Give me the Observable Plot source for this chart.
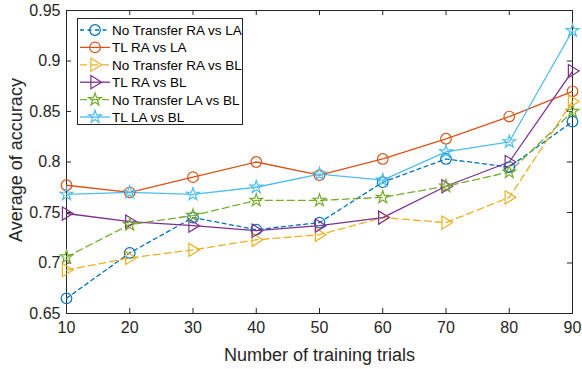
<!DOCTYPE html>
<html><head><meta charset="utf-8">
<script src="https://cdn.jsdelivr.net/npm/d3@7"></script>
<script src="https://cdn.jsdelivr.net/npm/@observablehq/plot@0.6"></script>
<style>
body{margin:0;background:#fff;font-family:"Liberation Sans",Arial,sans-serif;}
#wrap{position:relative;width:582px;height:369px;}
#legend{position:absolute;left:77px;top:18px;width:166px;height:107px;border:1px solid #262626;background:#fff;box-sizing:border-box;}
</style></head>
<body><div id="wrap"></div>
<script>
const trials = [10,20,30,40,50,60,70,80,90];
const seriesNames = ["No Transfer RA vs LA","TL RA vs LA","No Transfer RA vs BL","TL RA vs BL","No Transfer LA vs BL","TL LA vs BL"];
const ntRaLa = [0.665,0.710,0.745,0.733,0.740,0.780,0.803,0.795,0.840];
const tlRaLa = [0.777,0.770,0.785,0.800,0.787,0.803,0.823,0.845,0.870];
const ntRaBl = [0.693,0.705,0.713,0.723,0.728,0.745,0.740,0.765,0.860];
const tlRaBl = [0.749,0.741,0.737,0.732,0.737,0.745,0.776,0.800,0.890];
const ntLaBl = [0.706,0.738,0.747,0.762,0.762,0.765,0.776,0.790,0.850];
const tlLaBl = [0.768,0.770,0.768,0.775,0.788,0.782,0.810,0.820,0.930];
const xTicks = [10,20,30,40,50,60,70,80,90];
const yTicks = [0.65,0.7,0.75,0.8,0.85,0.9,0.95];

const colors = ["#0072BD","#D95319","#EDB120","#7E2F8E","#77AC30","#4DBEEE"];
const dashes = ["4,3.5",null,"7,4",null,"7,4",null];
const triRight = {draw(ctx, size){const r=Math.sqrt(size/Math.PI);ctx.moveTo(-r*0.75,-r*1.2);ctx.lineTo(r*1.2,0);ctx.lineTo(-r*0.75,r*1.2);ctx.closePath();}};
const symbols = [d3.symbolCircle,d3.symbolCircle,triRight,triRight,d3.symbolStar,d3.symbolStar];
const radii = [5.3,5.3,5.5,5.5,4,4];
const allVals = [ntRaLa,tlRaLa,ntRaBl,tlRaBl,ntLaBl,tlLaBl];

const data = seriesNames.map((name,i)=>trials.map((t,j)=>({series:name, x:t, y:allVals[i][j]})));

const lineMarks = data.map((d,i)=>Plot.line(d,{x:"x",y:"y",stroke:colors[i],strokeWidth:1.3,strokeDasharray:dashes[i]}));
const dotMarks = data.map((d,i)=>Plot.dot(d,{x:"x",y:"y",stroke:colors[i],fill:"none",strokeWidth:1.2,r:radii[i],symbol:()=>symbols[i]}));

const tx = 0.8, ty = 0.005;
const chart = Plot.plot({
  width:582, height:369,
  marginLeft:66, marginRight:10, marginTop:10, marginBottom:56,
  style:{fontFamily:"Liberation Sans, Arial, sans-serif", fontSize:"16px", color:"#262626", background:"#fff"},
  x:{domain:[10,90]},
  y:{domain:[0.65,0.95]},
  marks:[
    Plot.frame({stroke:"#262626",strokeWidth:1}),
    Plot.ruleX(xTicks,{x:d=>d,y1:0.65,y2:0.65+ty,stroke:"#262626"}),
    Plot.ruleX(xTicks,{x:d=>d,y1:0.95,y2:0.95-ty,stroke:"#262626"}),
    Plot.ruleY(yTicks,{y:d=>d,x1:10,x2:10+tx,stroke:"#262626"}),
    Plot.ruleY(yTicks,{y:d=>d,x1:90,x2:90-tx,stroke:"#262626"}),
    Plot.axisX({ticks:xTicks,tickSize:0,tickPadding:8,tickFormat:d=>String(d),fontSize:16,label:null,fill:"#262626"}),
    Plot.axisY({ticks:yTicks,tickSize:0,tickPadding:6,tickFormat:d=>d3.format("")(+d.toFixed(2)),fontSize:16,label:null,fill:"#262626"}),
    Plot.text(["Number of training trials"],{frameAnchor:"bottom",dy:47,text:d=>d,fontSize:18,fill:"#262626"}),
    Plot.text(["Average of accuracy"],{frameAnchor:"left",dx:-50,dy:-2,rotate:-90,textAnchor:"middle",text:d=>d,fontSize:18,fill:"#262626"}),
    ...lineMarks,
    ...dotMarks
  ]
});
const wrap = document.getElementById("wrap");
wrap.appendChild(chart);

// legend
const leg = document.createElement("div");
leg.id = "legend";
wrap.appendChild(leg);
const ls = d3.select(leg).append("svg").attr("width",164).attr("height",105).style("position","absolute").style("left","0").style("top","0");
seriesNames.forEach((name,i)=>{
  const yy = 11 + i*17.4;
  ls.append("line").attr("x1",2).attr("x2",32).attr("y1",yy).attr("y2",yy)
    .attr("stroke",colors[i]).attr("stroke-width",1.3).attr("stroke-dasharray",dashes[i]);
  ls.append("path").attr("transform",`translate(17,${yy})`)
    .attr("d",d3.symbol(symbols[i], Math.PI*radii[i]*radii[i])())
    .attr("fill","none").attr("stroke",colors[i]).attr("stroke-width",1.2);
  ls.append("text").attr("x",34).attr("y",yy+5).text(name)
    .attr("font-size","13.5px").attr("fill","#000").attr("font-family","Liberation Sans, Arial, sans-serif");
});
</script></body></html>
